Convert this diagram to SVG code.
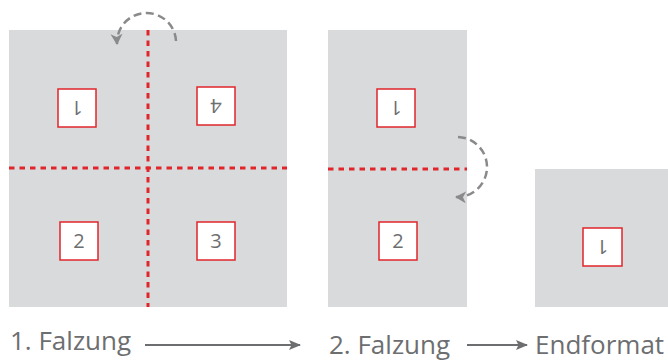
<svg xmlns="http://www.w3.org/2000/svg" width="668" height="361" viewBox="0 0 668 361">
<defs>
<style>
.sheet{fill:#d9dadc}
.box{fill:#fff;stroke:#e0262b;stroke-width:1.5}
.fold{stroke:#e0262b;stroke-width:3;stroke-dasharray:5.5 5;fill:none}
.turn{stroke:#8a8a8c;stroke-width:2.5;stroke-dasharray:8 4.5;fill:none}
.num{font-family:"Open Sans","Noto Sans",sans-serif;font-size:20px;fill:#6d6e70;text-anchor:middle}
.lbl{font-family:"Open Sans","Noto Sans",sans-serif;font-size:26px;fill:#6d6e70}
.flow{stroke:#6d6e70;stroke-width:2;fill:none}
</style>
<marker id="gh" markerUnits="userSpaceOnUse" markerWidth="14" markerHeight="14" refX="10" refY="6" orient="auto">
<path d="M0,0 L11,6 L0,12 L3,6 Z" fill="#8a8a8c"/>
</marker>
<marker id="fh" markerUnits="userSpaceOnUse" markerWidth="14" markerHeight="12" refX="11" refY="5" orient="auto">
<path d="M0,0 L12,5 L0,10 L2.5,5 Z" fill="#6d6e70"/>
</marker>
</defs>

<g id="sheet1">
<rect class="sheet" x="9" y="30" width="278" height="277"/>
<line class="fold" x1="148" y1="30" x2="148" y2="307"/>
<line class="fold" x1="9" y1="168" x2="287" y2="168"/>
<g id="p1a"><rect class="box" x="58" y="89" width="38" height="38"/><text class="num" x="77" y="115" transform="rotate(180 77 108)">1</text></g>
<g id="p4"><rect class="box" x="197" y="87" width="38" height="38"/><text class="num" x="216" y="113" transform="rotate(180 216 106)">4</text></g>
<g id="p2a"><rect class="box" x="60" y="222" width="38" height="38"/><text class="num" x="79" y="248">2</text></g>
<g id="p3"><rect class="box" x="197" y="222" width="38" height="38"/><text class="num" x="216" y="248">3</text></g>
</g>

<g id="sheet2">
<rect class="sheet" x="328" y="30" width="139" height="277"/>
<line class="fold" x1="328" y1="169" x2="467" y2="169"/>
<g id="p1b"><rect class="box" x="377" y="89" width="38" height="38"/><text class="num" x="396" y="115" transform="rotate(180 396 108)">1</text></g>
<g id="p2b"><rect class="box" x="379" y="222" width="38" height="38"/><text class="num" x="398" y="248">2</text></g>
</g>

<g id="sheet3">
<rect class="sheet" x="535" y="169" width="133" height="138"/>
<g id="p1c"><rect class="box" x="583" y="228" width="39" height="38"/><text class="num" x="602.5" y="254" transform="rotate(180 602.5 247)">1</text></g>
</g>

<g id="connectors">
<path class="turn" d="M176,41 A29,29 0 0 0 117,44" marker-end="url(#gh)"/>
<path class="turn" d="M458,137 A29,29 0 0 1 456,197" marker-end="url(#gh)"/>
<line class="flow" x1="145" y1="345" x2="300" y2="345" marker-end="url(#fh)"/>
<line class="flow" x1="467" y1="345" x2="527" y2="345" marker-end="url(#fh)"/>
</g>

<g id="labels">
<text class="lbl" x="10" y="350">1. Falzung</text>
<text class="lbl" x="329" y="354">2. Falzung</text>
<text class="lbl" x="535" y="354">Endformat</text>
</g>
</svg>
